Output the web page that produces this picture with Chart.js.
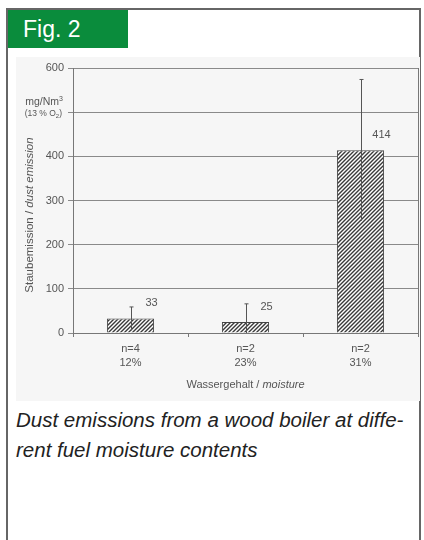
<!DOCTYPE html>
<html>
<head>
<meta charset="utf-8">
<script src="https://cdn.jsdelivr.net/npm/chart.js@4"></script>
<style>
  body { margin: 0; width: 424px; height: 540px; background: #fff; position: relative; overflow: hidden; font-family: "Liberation Sans", Arial, sans-serif; }
  #frame { position: absolute; left: 6px; top: 8px; width: 411px; height: 560px; border: 2px solid #666; }
  #fig { position: absolute; left: 8px; top: 10px; width: 120px; height: 38px; background: #0a8c3c; color: #fff; font-size: 23px; line-height: 38px; padding-left: 15px; box-sizing: border-box; }
  #panel { position: absolute; left: 16px; top: 57px; width: 404px; height: 344px; background: #f6f6f6; }
  #wrap { position: absolute; left: 16px; top: 57px; width: 404px; height: 344px; }
  #caption { position: absolute; left: 16px; top: 405px; font-size: 20.5px; font-style: italic; color: #222; line-height: 30px; white-space: nowrap; }
</style>
</head>
<body>
<div id="frame"></div>
<div id="fig">Fig. 2</div>
<div id="panel"></div>
<div id="wrap"><canvas id="chart"></canvas></div>
<div id="caption">Dust emissions from a wood boiler at diffe-<br>rent fuel moisture contents</div>
<script>
// data
const categories = [["n=4", "12%"], ["n=2", "23%"], ["n=2", "31%"]];
const dust = [33, 25, 414];
const errHigh = [59, 66, 574];
const errLow = [6, 0, 254];
const yTicks = [0, 100, 200, 300, 400, 500, 600];
const yUnitTick = 500; // no number here, the unit label sits on it

const textColor = "#555";
const font = "Liberation Sans, Arial, sans-serif";

// diagonal hatch fill
function makeHatch() {
  const c = document.createElement("canvas");
  c.width = 4; c.height = 4;
  const g = c.getContext("2d");
  g.fillStyle = "#fff";
  g.fillRect(0, 0, 4, 4);
  g.strokeStyle = "#3a3a3a";
  g.lineWidth = 1.4;
  g.beginPath();
  g.moveTo(0, 4); g.lineTo(4, 0);
  g.moveTo(-1, 1); g.lineTo(1, -1);
  g.moveTo(3, 5); g.lineTo(5, 3);
  g.stroke();
  return g.createPattern(c, "repeat");
}

// parts: [text, italic, size, dy]
function runText(ctx, parts, x, y, align) {
  let w = 0;
  parts.forEach(p => { ctx.font = (p[1] ? "italic " : "") + p[2] + "px " + font; w += ctx.measureText(p[0]).width; });
  let sx = align === "right" ? x - w : x - w / 2;
  parts.forEach(p => {
    ctx.font = (p[1] ? "italic " : "") + p[2] + "px " + font;
    ctx.fillText(p[0], sx, y + (p[3] || 0));
    sx += ctx.measureText(p[0]).width;
  });
}

const extras = {
  id: "extras",
  afterDatasetsDraw(chart) {
    const ctx = chart.ctx;
    const x = chart.scales.x, y = chart.scales.y;
    const area = chart.chartArea;
    ctx.save();
    // right border of plot
    ctx.strokeStyle = "#777";
    ctx.lineWidth = 1;
    ctx.beginPath();
    ctx.moveTo(area.right + 0.5, area.top);
    ctx.lineTo(area.right + 0.5, area.bottom);
    ctx.stroke();
    // error bars + value labels
    dust.forEach((v, i) => {
      const cx = Math.round(x.getPixelForValue(i)) + 0.5;
      const top = y.getPixelForValue(errHigh[i]);
      const bot = y.getPixelForValue(errLow[i]);
      ctx.strokeStyle = "#555";
      ctx.beginPath();
      ctx.moveTo(cx, top); ctx.lineTo(cx, bot);
      ctx.moveTo(cx - 2, top); ctx.lineTo(cx + 2, top);
      ctx.stroke();
      ctx.fillStyle = textColor;
      ctx.font = "11px " + font;
      ctx.textAlign = "center";
      ctx.textBaseline = "middle";
      ctx.fillText(String(v), cx + 20, y.getPixelForValue(v) - 15);
    });
    // unit label on the 500 line
    ctx.fillStyle = textColor;
    ctx.textAlign = "left";
    ctx.textBaseline = "alphabetic";
    runText(ctx, [["mg/Nm", false, 10.5], ["3", false, 7, -4]], 47, 48, "right");
    runText(ctx, [["(13 % O", false, 8.5], ["2", false, 6, 2], [")", false, 8.5]], 46, 59, "right");
    // y title, rotated
    ctx.save();
    ctx.translate(14, 158);
    ctx.rotate(-Math.PI / 2);
    ctx.textBaseline = "middle";
    runText(ctx, [["Staubemission / ", false, 11.5], ["dust emission", true, 11.5]], 0, 0, "center");
    ctx.restore();
    // x title
    ctx.textBaseline = "middle";
    runText(ctx, [["Wassergehalt / ", false, 11], ["moisture", true, 11]], (area.left + area.right) / 2, 328, "center");
    ctx.restore();
  }
};

new Chart(document.getElementById("chart"), {
  type: "bar",
  data: {
    labels: categories,
    datasets: [{
      data: dust,
      backgroundColor: makeHatch(),
      borderColor: "#444",
      borderWidth: 1,
      barPercentage: 0.41,
      categoryPercentage: 1
    }]
  },
  options: {
    responsive: true,
    maintainAspectRatio: false,
    animation: false,
    events: [],
    layout: { padding: { top: 11, right: 2, left: 0, bottom: 0 } },
    plugins: { legend: { display: false }, tooltip: { enabled: false } },
    scales: {
      x: {
        grid: { offset: true, drawOnChartArea: false, color: "#777", tickLength: 4 },
        border: { color: "#777" },
        ticks: { color: textColor, font: { size: 11, family: font, lineHeight: 1.3 }, padding: 5 },
        afterFit(s) { s.height = 68; }
      },
      y: {
        min: 0, max: 600,
        afterBuildTicks(s) { s.ticks = yTicks.map(v => ({ value: v })); },
        grid: { color: "#8a8a8a", tickLength: 5 },
        border: { color: "#777" },
        ticks: {
          color: textColor, font: { size: 11, family: font }, padding: 4,
          callback: v => (v === yUnitTick ? "" : v)
        },
        afterFit(s) { s.width = 57; }
      }
    }
  },
  plugins: [extras]
});
</script>
</body>
</html>
